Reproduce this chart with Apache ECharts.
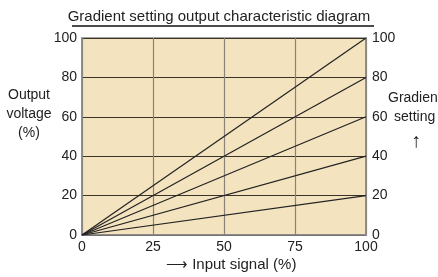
<!DOCTYPE html>
<html>
<head>
<meta charset="utf-8">
<script src="https://cdn.jsdelivr.net/npm/echarts@6/dist/echarts.min.js"></script>
<style>
html,body{margin:0;padding:0;background:#fff;}
#main{width:438px;height:277px;}
</style>
</head>
<body>
<div id="main"></div>
<script>
// data
var gradients = [20, 40, 60, 80, 100];   // gradient setting (%) = output at 100% input
var inputRange = [0, 100];
var xTicks = [0, 25, 50, 75, 100];
var yTicks = [0, 20, 40, 60, 80, 100];

var chart = echarts.init(document.getElementById('main'));
var font = 'Liberation Sans, Arial, sans-serif';

var series = gradients.map(function (g) {
	return {
		type: 'line',
		name: g + '%',
		symbol: 'none',
		lineStyle: { color: '#222', width: 1.2 },
		data: [[inputRange[0], 0], [inputRange[1], g * inputRange[1] / 100]],
		z: 5
	};
});

var yAxisBase = {
	type: 'value', min: 0, max: 100, interval: 20,
	axisLine: { show: true, lineStyle: { color: '#888', width: 1.5 } },
	axisTick: { show: false },
	splitLine: { show: true, lineStyle: { color: '#3a3328', width: 1.2 } },
	axisLabel: { color: '#222', fontSize: 14, fontFamily: font }
};

option = {
	animation: false,
	title: {
		text: 'Gradient setting output characteristic diagram',
		left: 'center', top: 4,
		textStyle: { fontSize: 15, fontWeight: 'normal', color: '#222', fontFamily: font }
	},
	grid: { left: 82, right: 72, top: 38, bottom: 42, show: true, backgroundColor: '#f3e3bf', borderColor: '#888', borderWidth: 1.5 },
	xAxis: {
		type: 'value', min: 0, max: 100, interval: 25,
		axisLine: { show: true, lineStyle: { color: '#888', width: 1.5 } },
		axisTick: { show: false },
		splitLine: { show: true, lineStyle: { color: '#8a8478', width: 1.2 } },
		axisLabel: { color: '#222', fontSize: 14, fontFamily: font, margin: 5 }
	},
	yAxis: [
		Object.assign({}, yAxisBase, { position: 'left', axisLabel: Object.assign({}, yAxisBase.axisLabel, { margin: 5 }) }),
		Object.assign({}, yAxisBase, { position: 'right', splitLine: { show: false }, axisLabel: Object.assign({}, yAxisBase.axisLabel, { margin: 6 }) })
	],
	series: series,
	graphic: [
		{ type: 'line', shape: { x1: 72, y1: 26, x2: 374, y2: 26 }, style: { stroke: '#111', lineWidth: 1.5 } },
		{ type: 'text', x: 29, y: 86, style: { text: 'Output\nvoltage\n(%)', align: 'center', lineHeight: 19, fill: '#222', font: '14px ' + font } },
		{ type: 'text', x: 388, y: 91, style: { text: 'Gradien', fill: '#222', font: '14px ' + font } },
		{ type: 'text', x: 394, y: 110, style: { text: 'setting', fill: '#222', font: '14px ' + font } },
		{ type: 'text', x: 411, y: 131, style: { text: '\u2191', fill: '#222', font: '20px ' + font } },
		{ type: 'text', x: 166, y: 257, style: { text: '\u27f6 Input signal (%)', fill: '#222', font: '15px ' + font } }
	]
};

chart.setOption(option);
</script>
</body>
</html>
